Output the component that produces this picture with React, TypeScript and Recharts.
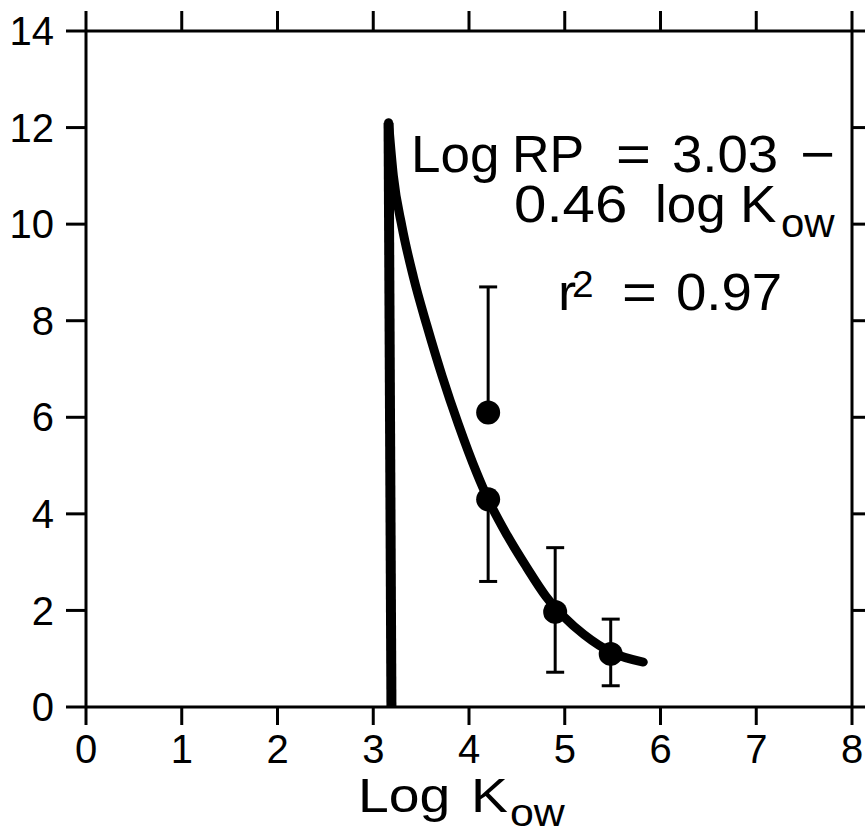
import {
  ComposedChart,
  Customized,
  ErrorBar,
  Line,
  Scatter,
  XAxis,
  YAxis,
} from "recharts";

const FONT = "'Liberation Sans', Arial, Helvetica, sans-serif";

const xTicks = [0, 1, 2, 3, 4, 5, 6, 7, 8];
const yTicks = [0, 2, 4, 6, 8, 10, 12, 14];

// fitted curve
const fitX = [3.16, 3.21, 3.3, 3.42, 3.56, 3.72, 3.89, 4.08, 4.2, 4.4, 4.6, 4.8, 5.0, 5.2, 5.5, 5.82];
const fitY = [12.1, 11.0, 9.95, 8.9, 7.9, 6.85, 5.85, 4.85, 4.3, 3.55, 2.9, 2.3, 1.85, 1.5, 1.12, 0.93];

// thick vertical cut-off line
const cutX = [3.16, 3.19];
const cutY = [12.1, 0];

// measured points with error bars
const pointX = [4.2, 4.2, 4.9, 5.48];
const pointY = [6.1, 4.3, 1.97, 1.1];
const errDown = [0, 1.7, 1.25, 0.66];
const errUp = [2.6, 0, 1.33, 0.72];

const fitData = fitX.map((x, i) => ({ x, y: fitY[i] }));
const cutData = cutX.map((x, i) => ({ x, y: cutY[i] }));
const pointData = pointX.map((x, i) => ({
  x,
  y: pointY[i],
  err: [errDown[i], errUp[i]],
}));

const axisStroke = { stroke: "#000", strokeWidth: 3 };
const tickStyle = { fill: "#000", fontSize: 40, fontFamily: FONT };

function Dot(props: any) {
  return <circle cx={props.cx} cy={props.cy} r={12} fill="#000" />;
}

// the scanned type is a little wider than Liberation Sans
function W({ x, y, size, sx = 1.05, children }: any) {
  return (
    <text
      transform={`translate(${x} ${y}) scale(${sx} 1)`}
      fontSize={size}
    >
      {children}
    </text>
  );
}

function Texts() {
  return (
    <g fontFamily={FONT} fill="#000">
      <W x={411} y={172} size={52} sx={1.02}>Log</W>
      <W x={512} y={172} size={52} sx={1.0}>RP</W>
      <W x={616} y={172} size={52} sx={1.15}>=</W>
      <W x={672} y={172} size={52}>3.03</W>
      <W x={800} y={172} size={52} sx={1.15}>−</W>

      <W x={514} y={222} size={52} sx={1.12}>0.46</W>
      <W x={655} y={222} size={52} sx={1.02}>log</W>
      <W x={740} y={222} size={52}>K</W>
      <W x={781} y={237} size={40}>ow</W>

      <W x={558} y={310} size={52}>r</W>
      <W x={572} y={297} size={37}>2</W>
      <W x={622} y={310} size={52} sx={1.15}>=</W>
      <W x={676} y={310} size={52}>0.97</W>

      <W x={358} y={812} size={49} sx={1.13}>Log</W>
      <W x={471} y={812} size={49} sx={1.13}>K</W>
      <W x={510} y={826} size={38} sx={1.13}>ow</W>
    </g>
  );
}

export default function App() {
  return (
    <div style={{ position: "absolute", left: 0, top: 0, background: "#fff" }}>
      <ComposedChart
        width={865}
        height={833}
        margin={{ top: 0, right: 0, bottom: 0, left: 0 }}
      >
        <XAxis
          xAxisId="bottom"
          dataKey="x"
          type="number"
          orientation="bottom"
          domain={[0, 8]}
          ticks={xTicks}
          height={126}
          tickSize={18}
          tickMargin={10}
          axisLine={axisStroke}
          tickLine={axisStroke}
          tick={tickStyle}
          interval={0}
        />
        <XAxis
          xAxisId="top"
          dataKey="x"
          type="number"
          orientation="top"
          domain={[0, 8]}
          ticks={xTicks}
          height={31}
          tickSize={20}
          axisLine={axisStroke}
          tickLine={axisStroke}
          tickFormatter={() => ""}
          interval={0}
        />
        <YAxis
          yAxisId="left"
          type="number"
          orientation="left"
          domain={[0, 14]}
          ticks={yTicks}
          width={86}
          tickSize={20}
          tickMargin={12}
          axisLine={axisStroke}
          tickLine={axisStroke}
          tick={tickStyle}
          interval={0}
        />
        <YAxis
          yAxisId="right"
          type="number"
          orientation="right"
          domain={[0, 14]}
          ticks={yTicks}
          width={13}
          tickSize={18}
          axisLine={axisStroke}
          tickLine={axisStroke}
          tickFormatter={() => ""}
          interval={0}
        />
        {/* invisible copy so the top axis has a series and draws its ticks */}
        <Line
          xAxisId="top"
          yAxisId="right"
          data={cutData}
          dataKey="y"
          stroke="none"
          dot={false}
          activeDot={false}
          isAnimationActive={false}
        />
        <Line
          xAxisId="bottom"
          yAxisId="left"
          data={cutData}
          dataKey="y"
          type="linear"
          stroke="#000"
          strokeWidth={10}
          dot={false}
          activeDot={false}
          isAnimationActive={false}
        />
        <Line
          xAxisId="bottom"
          yAxisId="left"
          data={fitData}
          dataKey="y"
          type="monotone"
          stroke="#000"
          strokeWidth={9}
          strokeLinecap="round"
          dot={false}
          activeDot={false}
          isAnimationActive={false}
        />
        <Scatter
          xAxisId="bottom"
          yAxisId="left"
          data={pointData}
          dataKey="y"
          shape={<Dot />}
          isAnimationActive={false}
        >
          <ErrorBar
            dataKey="err"
            direction="y"
            width={9}
            stroke="#000"
            strokeWidth={3}
            isAnimationActive={false}
          />
        </Scatter>
        <Customized component={<Texts />} />
      </ComposedChart>
    </div>
  );
}
